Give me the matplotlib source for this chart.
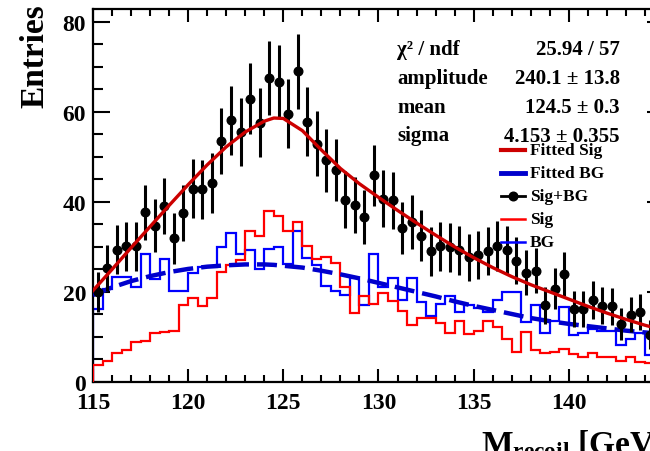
import numpy as np
import matplotlib
matplotlib.use("Agg")
import matplotlib.pyplot as plt
from matplotlib.lines import Line2D
from matplotlib.ticker import MultipleLocator, FixedFormatter, FixedLocator

plt.rcParams["font.family"] = ["Liberation Serif", "DejaVu Serif"]
plt.rcParams["font.weight"] = "bold"
plt.rcParams["mathtext.fontset"] = "custom"
plt.rcParams["mathtext.rm"] = "Liberation Serif:bold"
plt.rcParams["mathtext.bf"] = "Liberation Serif:bold"
plt.rcParams["mathtext.it"] = "Liberation Serif:bold"

# 60 bins of 0.5 GeV between 115 and 145 GeV
x_lo, x_hi, n_bins = 115.0, 145.0, 60

sig_bg = [19.9, 25.3, 29.4, 30.1, 30.1, 37.7, 34.7, 39.0, 31.9, 37.5,
          42.9, 42.8, 44.2, 53.6, 58.1, 55.5, 62.9, 57.6, 67.5, 66.7,
          59.6, 69.0, 57.8, 52.9, 49.2, 47.1, 40.5, 39.3, 36.6, 45.9,
          40.7, 40.3, 34.2, 35.6, 32.5, 29.0, 30.1, 29.9, 29.2, 27.7,
          28.2, 29.1, 30.2, 29.3, 26.9, 24.3, 24.7, 17.0, 20.7, 24.0,
          16.2, 16.2, 18.2, 16.9, 16.8, 12.9, 14.9, 15.5, 10.5, 12.0]

sig = [3.7, 4.6, 6.4, 7.0, 8.8, 9.1, 10.9, 11.2, 11.4, 17.0,
       18.6, 16.8, 18.6, 24.5, 26.0, 27.0, 33.6, 32.5, 37.9, 36.8,
       33.5, 35.5, 30.3, 27.3, 27.7, 26.5, 21.0, 15.3, 19.0, 17.3,
       19.8, 18.0, 15.7, 12.6, 14.3, 14.1, 13.0, 10.8, 13.5, 10.6,
       11.4, 13.6, 12.1, 9.6, 6.6, 11.0, 7.2, 6.5, 6.6, 7.3,
       6.2, 5.5, 6.4, 5.5, 5.5, 4.7, 5.5, 4.5, 4.3, 4.0]

bg = [16.2, 20.7, 23.3, 23.3, 21.0, 28.4, 22.9, 27.3, 20.2, 20.2,
      24.2, 25.5, 25.5, 29.9, 33.0, 28.5, 29.3, 25.1, 29.6, 29.9,
      26.1, 33.5, 27.5, 26.0, 21.2, 20.3, 19.4, 23.0, 17.1, 28.4,
      21.0, 23.0, 18.3, 23.0, 17.7, 14.7, 17.3, 19.2, 15.5, 17.1,
      16.5, 15.5, 18.1, 19.9, 19.9, 13.3, 17.0, 10.8, 13.6, 16.6,
      10.4, 10.8, 11.8, 11.4, 11.4, 8.3, 9.5, 10.8, 6.0, 8.0]

# fitted curves sampled in GeV
fit_x = [115, 116, 117, 118, 119, 120, 121, 122, 123, 124, 124.5, 125,
         126, 127, 128, 129, 130, 131, 132, 133, 134, 135, 136, 137,
         138, 139, 140, 141, 142, 143, 144, 145]
fit_sig = [20.3, 25.0, 29.8, 34.5, 39.2, 43.8, 48.2, 52.2, 55.5, 57.9, 58.6, 58.5,
           55.8, 51.5, 47.4, 44.0, 41.0, 38.1, 35.3, 32.6, 30.0, 27.6, 25.4, 23.4,
           21.6, 20.0, 18.4, 16.8, 15.3, 13.9, 12.6, 11.5]
fit_bg = [19.3, 21.0, 22.4, 23.5, 24.4, 25.1, 25.6, 25.9, 26.1, 26.1, 26.0, 25.8,
          25.4, 24.7, 23.9, 23.0, 22.0, 21.0, 20.0, 19.0, 17.9, 16.9, 16.0, 15.1,
          14.2, 13.5, 12.9, 12.4, 11.9, 11.4, 11.0, 10.6]

x_tick_labels = ["115", "120", "125", "130", "135", "140"]

stat_names = ["\u03c7\u00b2 / ndf", "amplitude", "mean", "sigma"]
stat_values = ["25.94 / 57", "240.1 \u00b1 13.8", "124.5 \u00b1 0.3", "4.153 \u00b1 0.355"]

legend_labels = ["Fitted Sig", "Fitted BG", "Sig+BG", "Sig", "BG"]

W, H = 650, 452
fig = plt.figure(figsize=(W / 100, H / 100), dpi=100)


def fx(px):
    return px / W


def fy(py):
    return 1 - py / H


ax_left, ax_right, ax_top, ax_bottom = 93, 664, 10, 383
ax = fig.add_axes([fx(ax_left), fy(ax_bottom), fx(ax_right - ax_left),
                   (ax_bottom - ax_top) / H])

edges = np.linspace(x_lo, x_hi, n_bins + 1)
centers = 0.5 * (edges[:-1] + edges[1:])

red_fit = "#cc0000"
blue_fit = "#0000cc"

ax.stairs(bg, edges, baseline=0, color="#0000ff", lw=1.6, zorder=2)
ax.stairs(sig, edges, baseline=0, color="#ff0000", lw=1.6, zorder=3)
ax.plot(fit_x, fit_bg, color=blue_fit, lw=3.2, dashes=(4.5, 1.8), zorder=4,
        solid_capstyle="butt", dash_capstyle="butt")
tot = np.array(sig_bg)
ax.errorbar(centers, tot, yerr=np.sqrt(tot), fmt="o", color="black",
            ms=6.2, elinewidth=2.2, capsize=0, zorder=5)
ax.plot(fit_x, fit_sig, color=red_fit, lw=2.4, zorder=6)

ax.set_xlim(x_lo, x_hi)
ax.set_ylim(0, 82.8)
major_x = [float(t) for t in x_tick_labels] + [145.0]
ax.xaxis.set_major_locator(FixedLocator(major_x))
ax.xaxis.set_major_formatter(FixedFormatter(x_tick_labels + [""]))
ax.xaxis.set_minor_locator(MultipleLocator(1))
ax.yaxis.set_major_locator(MultipleLocator(20))
ax.yaxis.set_minor_locator(MultipleLocator(5))
ax.tick_params(axis="both", which="both", direction="in", top=True, right=True,
               width=1.5, labelsize=17)
ax.tick_params(axis="x", which="major", length=9.4, pad=7)
ax.tick_params(axis="x", which="minor", length=5)
ax.tick_params(axis="y", which="major", length=12.2, pad=5)
ax.tick_params(axis="y", which="minor", length=7.2)
for lab in ax.get_xticklabels() + ax.get_yticklabels():
    lab.set_fontweight("bold")
for sp in ax.spines.values():
    sp.set_linewidth(1.6)

fig.text(fx(35), fy(4), "Entries", rotation=90, ha="center", va="top",
         fontsize=24, fontweight="bold")
fig.text(fx(ax_right), fy(454), r"M$_{\mathbf{recoil}}$ [GeV]", ha="right",
         va="baseline", fontsize=24, fontweight="bold")

# fit statistics
stat_base = [55, 84, 113, 141.5]
for name, val, yb in zip(stat_names, stat_values, stat_base):
    fig.text(fx(397), fy(yb), name, ha="left", va="baseline", fontsize=15,
             fontweight="bold")
    fig.text(fx(620), fy(yb), val, ha="right", va="baseline", fontsize=15,
             fontweight="bold")

# legend
leg_y = [151, 174, 197, 220, 243]
leg_styles = [
    dict(color=red_fit, lw=3.0),
    dict(color=blue_fit, lw=3.5),
    dict(color="black", lw=2.0),
    dict(color="#ff0000", lw=1.8),
    dict(color="#0000ff", lw=1.8),
]
for lab, yy, st in zip(legend_labels, leg_y, leg_styles):
    fig.add_artist(Line2D([fx(501), fx(525)], [fy(yy), fy(yy)], **st))
    if lab == "Sig+BG":
        fig.add_artist(Line2D([fx(513)], [fy(yy)], marker="o", ms=6.2,
                              color="black", lw=0))
    fig.text(fx(530), fy(yy), lab, ha="left", va="center", fontsize=12.5,
             fontweight="bold")

fig.savefig("out.png", dpi=100)
